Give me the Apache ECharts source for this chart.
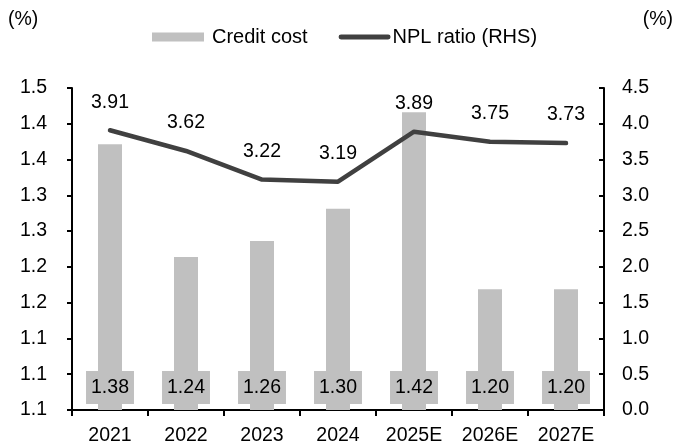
<!DOCTYPE html>
<html>
<head>
<meta charset="utf-8">
<script src="https://cdn.jsdelivr.net/npm/echarts@6/dist/echarts.min.js"></script>
<style>
  html, body { margin: 0; padding: 0; background: #fff; }
  #chart { width: 680px; height: 447px; }
</style>
</head>
<body>
<div id="chart"></div>
<script>
const categories = ['2021', '2022', '2023', '2024', '2025E', '2026E', '2027E']
const creditCost = [1.38, 1.24, 1.26, 1.30, 1.42, 1.20, 1.20]
const nplRatio = [3.91, 3.62, 3.22, 3.19, 3.89, 3.75, 3.73]
const leftTickLabels = ['1.1', '1.1', '1.1', '1.2', '1.2', '1.3', '1.3', '1.4', '1.4', '1.5']

const font = "'Liberation Sans', Arial, sans-serif"
const fs = 19.5
const myChart = echarts.init(document.getElementById('chart'), null, { renderer: 'canvas' })

const option = {
  backgroundColor: '#fff',
  animation: false,
  textStyle: { fontFamily: font, color: '#000' },
  legend: {
    data: [
      { name: 'Credit cost', icon: 'rect', textStyle: { padding: [0, 0, 0, 3] } },
      {
        name: 'NPL ratio (RHS)',
        icon: 'path://M2,2 L50,2 A2.5,2.5 0 0 1 50,7 L2,7 A2.5,2.5 0 0 1 2,2 Z',
        itemStyle: { color: '#404040' },
        textStyle: { padding: [0, 0, 0, -3] }
      }
    ],
    top: 22, left: 147,
    itemWidth: 52, itemHeight: 9, itemGap: 31,
    textStyle: { fontFamily: font, fontSize: 20, color: '#000' }
  },
  graphic: [
    { type: 'text', left: 8, top: 10, style: { text: '(%)', font: fs + 'px ' + font, fill: '#000' } },
    { type: 'text', right: 7, top: 10, style: { text: '(%)', font: fs + 'px ' + font, fill: '#000' } }
  ],
  grid: { left: 72, right: 76, top: 88, bottom: 37 },
  xAxis: {
    type: 'category',
    data: categories,
    axisLine: { lineStyle: { color: '#000', width: 2 } },
    axisTick: { show: true, length: 6, lineStyle: { color: '#000', width: 2 } },
    axisLabel: { color: '#000', fontSize: fs, fontFamily: font, margin: 16 }
  },
  yAxis: [
    {
      type: 'value', min: 1.05, max: 1.45, alignTicks: true,
      axisLine: { show: true, lineStyle: { color: '#000', width: 2 } },
      axisTick: { show: true, length: 5, lineStyle: { color: '#000', width: 2 } },
      splitLine: { show: false },
      axisLabel: {
        color: '#000', fontSize: fs, fontFamily: font, margin: 25,
        formatter: (v, i) => leftTickLabels[i]
      }
    },
    {
      type: 'value', min: 0, max: 4.5, interval: 0.5,
      axisLine: { show: true, lineStyle: { color: '#000', width: 2 } },
      axisTick: { show: true, inside: true, length: 5, lineStyle: { color: '#000', width: 2 } },
      splitLine: { show: false },
      axisLabel: {
        color: '#000', fontSize: fs, fontFamily: font, margin: 18,
        formatter: v => v.toFixed(1)
      }
    }
  ],
  series: [
    {
      name: 'Credit cost', type: 'bar', yAxisIndex: 0, barWidth: 24,
      data: creditCost,
      itemStyle: { color: '#c0c0c0' },
      label: {
        show: true, position: 'insideBottom', distance: 6,
        backgroundColor: '#c0c0c0', padding: [6, 5, 6, 5], lineHeight: 21,
        color: '#000', fontSize: fs, fontFamily: font,
        formatter: p => p.value.toFixed(2)
      }
    },
    {
      name: 'NPL ratio (RHS)', type: 'line', yAxisIndex: 1,
      symbol: 'circle', symbolSize: 0, showSymbol: true,
      data: nplRatio,
      lineStyle: { color: '#404040', width: 4.5, cap: 'round', join: 'round' },
      itemStyle: { color: '#404040' },
      label: {
        show: true, position: 'top', distance: 18,
        color: '#000', fontSize: fs, fontFamily: font,
        formatter: p => p.value.toFixed(2)
      }
    }
  ]
}

myChart.setOption(option)
window.addEventListener('resize', () => myChart.resize())
</script>
</body>
</html>
